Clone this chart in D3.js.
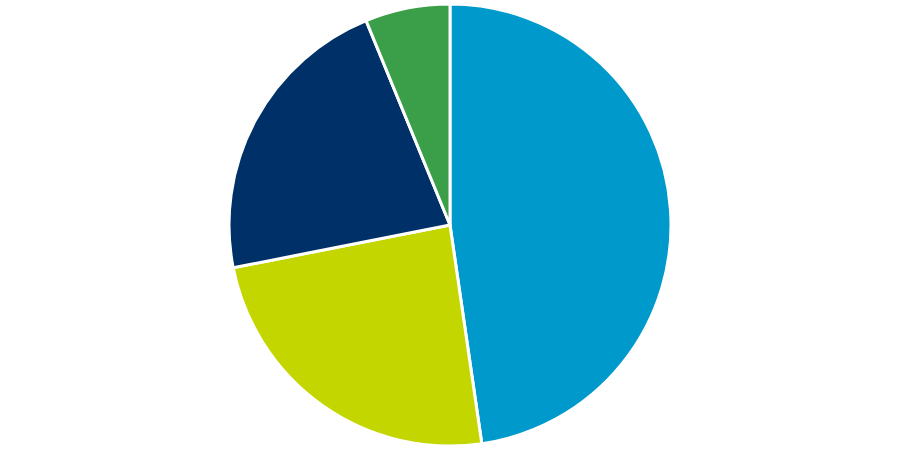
<!DOCTYPE html>
<html>
<head>
<meta charset="utf-8">
<script src="https://cdn.jsdelivr.net/npm/d3@7"></script>
<style>
  body { margin: 0; background: #fff; }
</style>
</head>
<body>
<div id="vis"></div>
<script>
// Frame
const FRAME_WIDTH = 900;
const FRAME_HEIGHT = 450;
const CENTER = {x: 450, y: 225};
const RADIUS = 221;

// Data (shares, clockwise from 12 o'clock)
const categories = ["A", "B", "C", "D"];
const shares = [47.7, 24.2, 21.9, 6.2];
const colors = ["#0099cc", "#c4d600", "#003068", "#3a9f48"];

const FRAME = d3.select("#vis")
                .append("svg")
                  .attr("width", FRAME_WIDTH)
                  .attr("height", FRAME_HEIGHT);

const data = categories.map((c, i) => ({name: c, value: shares[i], color: colors[i]}));

const pie = d3.pie()
              .sort(null)
              .value(d => d.value);

const arc = d3.arc()
              .innerRadius(0)
              .outerRadius(RADIUS);

FRAME.append("g")
      .attr("transform", "translate(" + CENTER.x + "," + CENTER.y + ")")
    .selectAll("path")
    .data(pie(data))
    .enter()
    .append("path")
      .attr("d", arc)
      .attr("fill", d => d.data.color)
      .attr("stroke", "#fff")
      .attr("stroke-width", 3)
      .attr("stroke-linejoin", "round");
</script>
</body>
</html>
